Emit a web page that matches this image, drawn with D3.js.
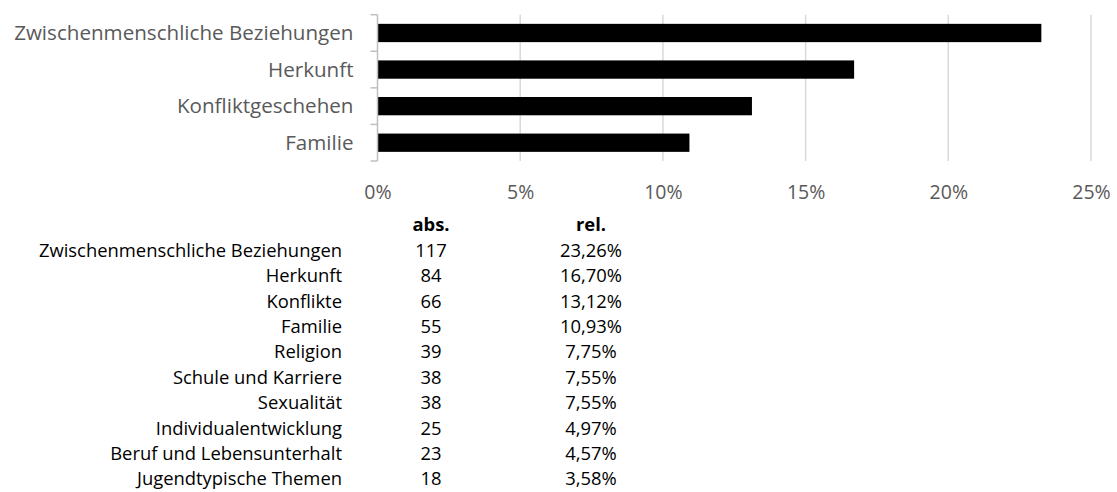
<!DOCTYPE html>
<html>
<head>
<meta charset="utf-8">
<script src="https://cdn.jsdelivr.net/npm/d3@7"></script>
<style>
  html, body { margin: 0; padding: 0; background: #fff; }
  svg { display: block; }
  text { font-family: "Open Sans", Lato, sans-serif; }
</style>
</head>
<body>
<svg id="chart" width="1117" height="492"></svg>
<script>
// Bar chart: share of topics (top four)
const chartCategories = ["Zwischenmenschliche Beziehungen", "Herkunft", "Konfliktgeschehen", "Familie"];
const chartValues = [23.26, 16.70, 13.12, 10.93];
const axisTicks = [0, 5, 10, 15, 20, 25];

// Frequency table below the chart
const tableHeaders = ["abs.", "rel."];
const tableTopics = [
  "Zwischenmenschliche Beziehungen", "Herkunft", "Konflikte", "Familie", "Religion",
  "Schule und Karriere", "Sexualität", "Individualentwicklung",
  "Beruf und Lebensunterhalt", "Jugendtypische Themen"
];
const tableAbs = [117, 84, 66, 55, 39, 38, 38, 25, 23, 18];
const tableRel = [23.26, 16.70, 13.12, 10.93, 7.75, 7.55, 7.55, 4.97, 4.57, 3.58];

const svg = d3.select("#chart");
const de = d3.formatLocale({ decimal: ",", thousands: ".", grouping: [3], currency: ["", " €"] });
const fmtPct2 = de.format(".2f");

// ---- chart ----
const plot = { left: 377.5, right: 1091, top: 14.7, bottom: 161 };
const x = d3.scaleLinear().domain([0, 25]).range([plot.left, plot.right]);
const y = d3.scaleBand().domain(chartCategories).range([plot.top, plot.bottom])
  .paddingInner(0.5).paddingOuter(0.25);

// vertical gridlines
svg.append("g").selectAll("line").data(axisTicks.slice(1)).join("line")
  .attr("x1", d => x(d)).attr("x2", d => x(d))
  .attr("y1", plot.top).attr("y2", plot.bottom)
  .attr("stroke", "#d9d9d9").attr("stroke-width", 1.5);

// bars
svg.append("g").selectAll("rect").data(chartCategories).join("rect")
  .attr("x", x(0))
  .attr("y", d => y(d))
  .attr("width", (d, i) => x(chartValues[i]) - x(0))
  .attr("height", y.bandwidth())
  .attr("fill", "#000");

// category axis with tick marks between categories
const boundaries = d3.range(chartCategories.length + 1).map(i => plot.top + i * y.step());
const cat = svg.append("g");
cat.append("line")
  .attr("x1", plot.left).attr("x2", plot.left)
  .attr("y1", plot.top).attr("y2", plot.bottom)
  .attr("stroke", "#bfbfbf").attr("stroke-width", 1.5);
cat.selectAll("line.tick").data(boundaries).join("line").attr("class", "tick")
  .attr("x1", plot.left - 7).attr("x2", plot.left)
  .attr("y1", d => d).attr("y2", d => d)
  .attr("stroke", "#bfbfbf").attr("stroke-width", 1.5);
cat.selectAll("text").data(chartCategories).join("text")
  .attr("x", plot.left - 24)
  .attr("y", d => y(d) + y.bandwidth() / 2)
  .attr("dy", "0.35em")
  .attr("text-anchor", "end")
  .attr("fill", "#595959")
  .attr("font-size", 20.6)
  .text(d => d);

// value axis labels
const xAxis = d3.axisBottom(x).tickValues(axisTicks).tickFormat(d => d + "%").tickSize(0).tickPadding(0);
const gx = svg.append("g").attr("transform", `translate(0, ${plot.bottom})`).call(xAxis);
gx.select(".domain").remove();
gx.selectAll("text")
  .attr("y", 31).attr("dy", "0.35em")
  .attr("fill", "#595959")
  .attr("font-size", 19.5)
  .attr("font-family", "'Open Sans', Lato, sans-serif");

// ---- table ----
const rowY = d3.scaleLinear().domain([0, 1]).range([225, 250.4]);
const col = { label: 342, abs: 431, rel: 591 };
const tbl = svg.append("g").attr("fill", "#000").attr("font-size", 18.4);

tbl.append("text").attr("x", col.abs).attr("y", rowY(0)).attr("dy", "0.35em")
  .attr("text-anchor", "middle").attr("font-weight", "bold").text(tableHeaders[0]);
tbl.append("text").attr("x", col.rel).attr("y", rowY(0)).attr("dy", "0.35em")
  .attr("text-anchor", "middle").attr("font-weight", "bold").text(tableHeaders[1]);

const rows = tbl.selectAll("g.row").data(tableTopics).join("g").attr("class", "row")
  .attr("transform", (d, i) => `translate(0, ${rowY(i + 1)})`);
rows.append("text").attr("x", col.label).attr("dy", "0.35em").attr("text-anchor", "end").text(d => d);
rows.append("text").attr("x", col.abs).attr("dy", "0.35em").attr("text-anchor", "middle").text((d, i) => tableAbs[i]);
rows.append("text").attr("x", col.rel).attr("dy", "0.35em").attr("text-anchor", "middle").text((d, i) => fmtPct2(tableRel[i]) + "%");
</script>
</body>
</html>
